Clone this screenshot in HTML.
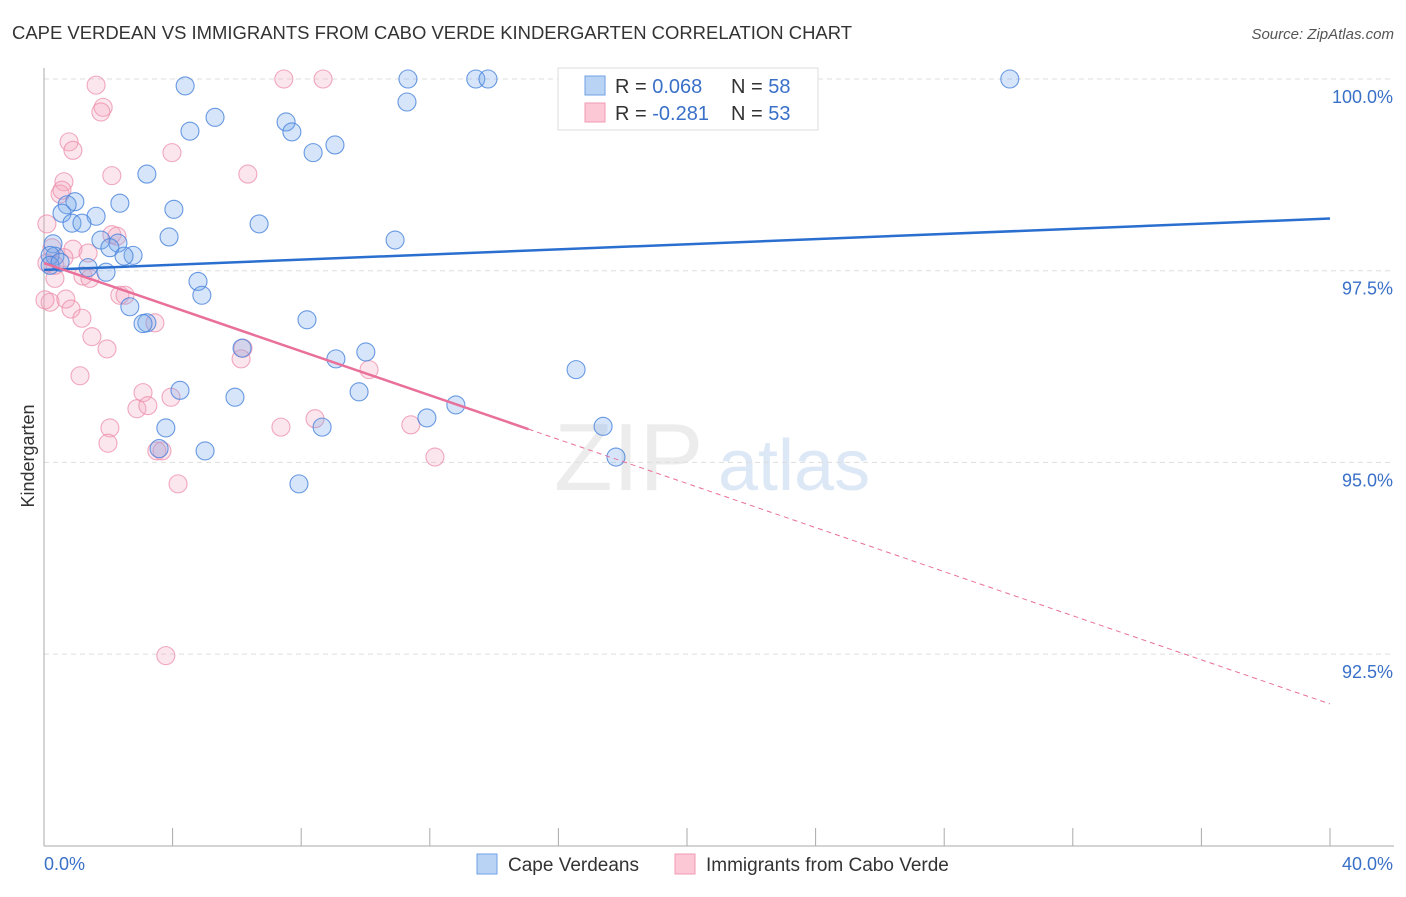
<!DOCTYPE html>
<html><head><meta charset="utf-8"><style>
body{margin:0;background:#fff;font-family:"Liberation Sans",sans-serif;}
svg text{font-family:"Liberation Sans",sans-serif;}
</style></head><body>
<svg id="chart" width="1406" height="892" xmlns="http://www.w3.org/2000/svg">
<text x="12" y="39" font-size="18" fill="#333" textLength="840" lengthAdjust="spacingAndGlyphs">CAPE VERDEAN VS IMMIGRANTS FROM CABO VERDE KINDERGARTEN CORRELATION CHART</text>
<text x="1394" y="39" font-size="15" fill="#555" text-anchor="end" font-style="italic">Source: ZipAtlas.com</text>
<text x="554" y="490" font-size="96" fill="#ececec" font-family="Liberation Serif">ZIP</text>
<text x="718" y="490" font-size="72" fill="#dde8f6">atlas</text>
<g id="grid"></g>
<g id="axes"></g>
<g id="pts"></g>
<g id="lines"></g>
<text transform="translate(34,456) rotate(-90)" font-size="18" fill="#333" text-anchor="middle">Kindergarten</text>
<g>
<rect x="558" y="68" width="260" height="62" fill="#fff" stroke="#ddd"/>
<rect x="585" y="76" width="20" height="19" fill="#b9d3f5" stroke="#6fa0e6"/>
<rect x="585" y="103" width="20" height="19" fill="#fcc8d6" stroke="#f09ab3"/>
<text x="615" y="93" font-size="20" fill="#333">R = <tspan fill="#3a70c8">0.068</tspan></text>
<text x="731" y="93" font-size="20" fill="#333">N = <tspan fill="#3a70c8">58</tspan></text>
<text x="615" y="120" font-size="20" fill="#333">R = <tspan fill="#3a70c8">-0.281</tspan></text>
<text x="731" y="120" font-size="20" fill="#333">N = <tspan fill="#3a70c8">53</tspan></text>
</g>
<g>
<rect x="477" y="854" width="20" height="20" fill="#b9d3f5" stroke="#6fa0e6"/>
<text x="508" y="871" font-size="19" fill="#333">Cape Verdeans</text>
<rect x="675" y="854" width="20" height="20" fill="#fcc8d6" stroke="#f09ab3"/>
<text x="706" y="871" font-size="19" fill="#333">Immigrants from Cabo Verde</text>
</g>
</svg>
<script>
const blueX=[4.39,11.32,13.43,13.81,30.04,11.29,5.32,4.54,7.53,7.71,9.05,8.37,3.20,2.36,0.96,0.72,0.56,4.04,1.62,0.87,1.18,6.69,3.89,10.92,1.77,2.30,2.05,0.28,2.77,2.49,0.34,0.19,1.37,1.93,4.79,4.91,2.67,3.20,3.08,8.18,6.16,10.01,9.08,16.55,4.23,9.80,5.94,12.81,11.91,3.79,8.65,17.39,3.58,5.01,17.79,7.93,0.19,0.50];
const blueY=[99.91,100,100,100,100,99.70,99.50,99.32,99.44,99.31,99.14,99.04,98.76,98.38,98.40,98.36,98.25,98.30,98.21,98.12,98.12,98.11,97.94,97.90,97.90,97.86,97.80,97.85,97.70,97.69,97.69,97.70,97.54,97.48,97.36,97.18,97.03,96.82,96.81,96.86,96.49,96.44,96.35,96.21,95.94,95.92,95.85,95.75,95.58,95.45,95.46,95.47,95.18,95.15,95.07,94.72,97.57,97.61];
const pinkX=[1.62,7.46,8.68,1.84,1.77,0.78,0.90,3.98,6.34,2.11,0.62,0.50,0.56,0.09,2.11,2.27,0.25,0.90,1.37,0.62,0.09,1.21,0.34,1.43,2.36,2.52,0.19,0.68,0.84,1.18,1.49,1.96,6.19,6.13,3.45,10.11,1.12,3.08,3.95,2.89,3.23,2.05,1.99,3.51,8.43,7.37,11.41,12.16,4.17,3.79,0.34,3.67,0.03];
const pinkY=[99.92,100,100,99.63,99.57,99.18,99.07,99.04,98.76,98.74,98.66,98.50,98.55,98.11,97.97,97.95,97.80,97.78,97.73,97.67,97.60,97.43,97.40,97.40,97.18,97.18,97.09,97.13,97.00,96.88,96.64,96.48,96.49,96.35,96.82,96.21,96.13,95.91,95.85,95.70,95.74,95.45,95.25,95.15,95.57,95.46,95.49,95.07,94.72,92.48,97.57,95.15,97.12];
const blueTrend=[97.51,98.18];
const pinkTrend=[97.60,91.85];
const pinkSolidEnd=15.07;
const yTicks=[100,97.5,95,92.5];
const yTickLabels=["100.0%","97.5%","95.0%","92.5%"];
const xTicks=[0,4,8,12,16,20,24,28,32,36,40];
const NS="http://www.w3.org/2000/svg";
const X=v=>44+v/40*1286;
const Y=v=>79+(100-v)/2.5*191.7;
function mk(tag,attrs,parent){const e=document.createElementNS(NS,tag);for(const k in attrs)e.setAttribute(k,attrs[k]);document.getElementById(parent).appendChild(e);return e;}
yTicks.forEach((t,i)=>{
 const l=mk('line',{x1:44,x2:1394,y1:Y(t),y2:Y(t),stroke:'#ddd','stroke-dasharray':'5,4'},'grid');
 
 
 const tx=mk('text',{x:1393,y:Y(t)+24,'font-size':18,fill:'#3a70c8','text-anchor':'end'},'grid');
 tx.textContent=yTickLabels[i];
 
 
});
const ya=mk('line',{x1:44,x2:44,y1:68,y2:846,stroke:'#aaa'},'axes');


const xa=mk('line',{x1:44,x2:1394,y1:846,y2:846,stroke:'#aaa'},'axes');


xTicks.forEach(t=>{const l=mk('line',{x1:X(t),x2:X(t),y1:828,y2:846,stroke:'#aaa'},'axes');
 
 });
const x0=mk('text',{x:44,y:870,'font-size':18,fill:'#3a70c8'},'axes');x0.textContent='0.0%';


const x1=mk('text',{x:1393,y:870,'font-size':18,fill:'#3a70c8','text-anchor':'end'},'axes');x1.textContent='40.0%';


pinkX.forEach((v,i)=>{const c=mk('circle',{cx:X(v),cy:Y(pinkY[i]),r:9,fill:'rgba(245,165,190,0.28)',stroke:'rgba(236,140,170,0.75)','stroke-width':1.1},'pts');
 
 });
blueX.forEach((v,i)=>{const c=mk('circle',{cx:X(v),cy:Y(blueY[i]),r:9,fill:'rgba(120,168,235,0.3)',stroke:'rgba(70,130,220,0.8)','stroke-width':1.1},'pts');
 
 });
const bl=mk('line',{x1:X(0),y1:Y(blueTrend[0]),x2:X(40),y2:Y(blueTrend[1]),stroke:'#2a6fd0','stroke-width':2.5},'lines');


const pm=pinkTrend[0]+(pinkTrend[1]-pinkTrend[0])*pinkSolidEnd/40;
const pl=mk('line',{x1:X(0),y1:Y(pinkTrend[0]),x2:X(pinkSolidEnd),y2:Y(pm),stroke:'#e8709a','stroke-width':2.5},'lines');


const pd=mk('line',{x1:X(pinkSolidEnd),y1:Y(pm),x2:X(40),y2:Y(pinkTrend[1]),stroke:'#e8709a','stroke-width':1,'stroke-dasharray':'5,4'},'lines');


</script>
</body></html>
